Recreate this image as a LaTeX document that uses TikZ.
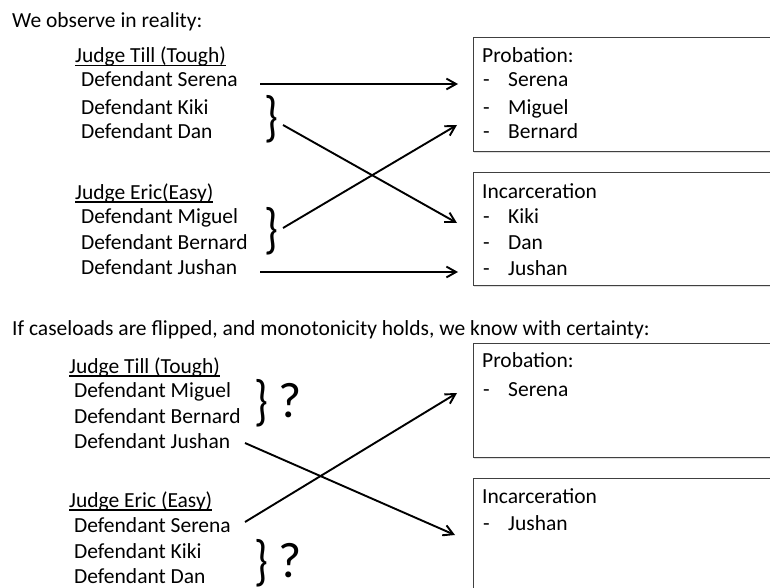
\documentclass[tikz,border=0pt]{standalone}
\usepackage{fontspec}
\setmainfont{Carlito}
\usetikzlibrary{arrows.meta,shadows}
\newsavebox{\undlbox}
\newcommand{\undl}[1]{\sbox{\undlbox}{#1}\rlap{\rule[-3.5pt]{\wd\undlbox}{1.1pt}}\usebox{\undlbox}}
\newcommand{\tallbrace}{\scalebox{1.05}[1.32]{\}}}
\tikzset{
  lbl/.style   ={anchor=base west,inner sep=0pt,font=\fontsize{21.5}{25}\selectfont},
  brc/.style   ={anchor=center,inner sep=0pt,font=\fontsize{42}{42}\selectfont},
  qmark/.style ={anchor=center,inner sep=0pt,font=\fontsize{50}{50}\selectfont},
  outbox/.style={draw=black!75,line width=1pt,fill=white,anchor=north west,
                 inner sep=0pt,minimum width=340pt,
                 drop shadow={opacity=0.25,shadow xshift=0pt,shadow yshift=-1.5pt}},
  flow/.style  ={-{Straight Barb[length=3.4mm,width=3.8mm]},line width=1.9pt,draw=black}
}
\begin{document}
\begin{tikzpicture}[x=1pt,y=-1pt]
  \useasboundingbox[fill=white] (0,0) rectangle (770,588);
  % ---- what we observe ----
  \node[lbl] (obs) at (12,28) {We observe in reality:};
  \node[lbl] (tillA) at (75,63) {\undl{Judge Till (Tough)}};
  \node[lbl] (serA) at (81,87) {Defendant Serena};
  \node[lbl] (kikA) at (81,115) {Defendant Kiki};
  \node[lbl] (danA) at (81,139) {Defendant Dan};
  \node[lbl] (ericA) at (75,199) {\undl{Judge Eric(Easy)}};
  \node[lbl] (migA) at (81,223) {Defendant Miguel};
  \node[lbl] (berA) at (81,249) {Defendant Bernard};
  \node[lbl] (jusA) at (81,274) {Defendant Jushan};
  \node[brc] (brA1) at (271,119) {\tallbrace};
  \node[brc] (brA2) at (271,231) {\tallbrace};
  \node[outbox,minimum height=114pt] (probA) at (473,37) {};
  \node[outbox,minimum height=113pt] (incA) at (473,172) {};
  \node[lbl] (probAt) at (482,63) {Probation:};
  \foreach \nm/\yy in {Serena/87,Miguel/115,Bernard/139}{
    \node[lbl] (dashA\yy) at (483,\yy) {-};
    \node[lbl] (itemA\yy) at (508,\yy) {\nm};
  }
  \node[lbl] (incAt) at (482,198) {Incarceration};
  \foreach \nm/\yy in {Kiki/223,Dan/249,Jushan/275}{
    \node[lbl] (dashA\yy) at (483,\yy) {-};
    \node[lbl] (itemA\yy) at (508,\yy) {\nm};
  }
  \coordinate (serAo) at (260,84);  \coordinate (serAi) at (458,84);
  \coordinate (brA1o) at (283,125); \coordinate (brA1i) at (457,223);
  \coordinate (brA2o) at (283,228); \coordinate (brA2i) at (457,125);
  \coordinate (jusAo) at (260,272); \coordinate (jusAi) at (458,272);
  \draw[flow] (serAo) -- (serAi);
  \draw[flow] (brA1o) -- (brA1i);
  \draw[flow] (brA2o) -- (brA2i);
  \draw[flow] (jusAo) -- (jusAi);
  % ---- flipped caseloads ----
  \node[lbl] (flip) at (12,335) {If caseloads are flipped, and monotonicity holds, we know with certainty:};
  \node[lbl] (tillB) at (69,373) {\undl{Judge Till (Tough)}};
  \node[lbl] (migB) at (74,397) {Defendant Miguel};
  \node[lbl] (berB) at (74,423) {Defendant Bernard};
  \node[lbl] (jusB) at (74,448) {Defendant Jushan};
  \node[lbl] (ericB) at (69,507) {\undl{Judge Eric (Easy)}};
  \node[lbl] (serB) at (74,532) {Defendant Serena};
  \node[lbl] (kikB) at (74,558) {Defendant Kiki};
  \node[lbl] (danB) at (74,583) {Defendant Dan};
  \node[brc] (brB1) at (261,403) {\tallbrace};
  \node[brc] (brB2) at (261,563) {\tallbrace};
  \node[qmark] (qB1) at (290,401) {?};
  \node[qmark] (qB2) at (290,561) {?};
  \node[outbox,minimum height=114pt] (probB) at (473,343) {};
  \node[outbox,minimum height=140pt] (incB) at (473,478) {};
  \node[lbl] (probBt) at (482,367) {Probation:};
  \node[lbl] (dashB1) at (483,396) {-};
  \node[lbl] (itemB1) at (508,396) {Serena};
  \node[lbl] (incBt) at (482,503) {Incarceration};
  \node[lbl] (dashB2) at (483,530) {-};
  \node[lbl] (itemB2) at (508,530) {Jushan};
  \coordinate (jusBo) at (245,443); \coordinate (jusBi) at (455,535);
  \coordinate (serBo) at (245,522); \coordinate (serBi) at (457,393);
  \draw[flow] (jusBo) -- (jusBi);
  \draw[flow] (serBo) -- (serBi);
\end{tikzpicture}
\end{document}
